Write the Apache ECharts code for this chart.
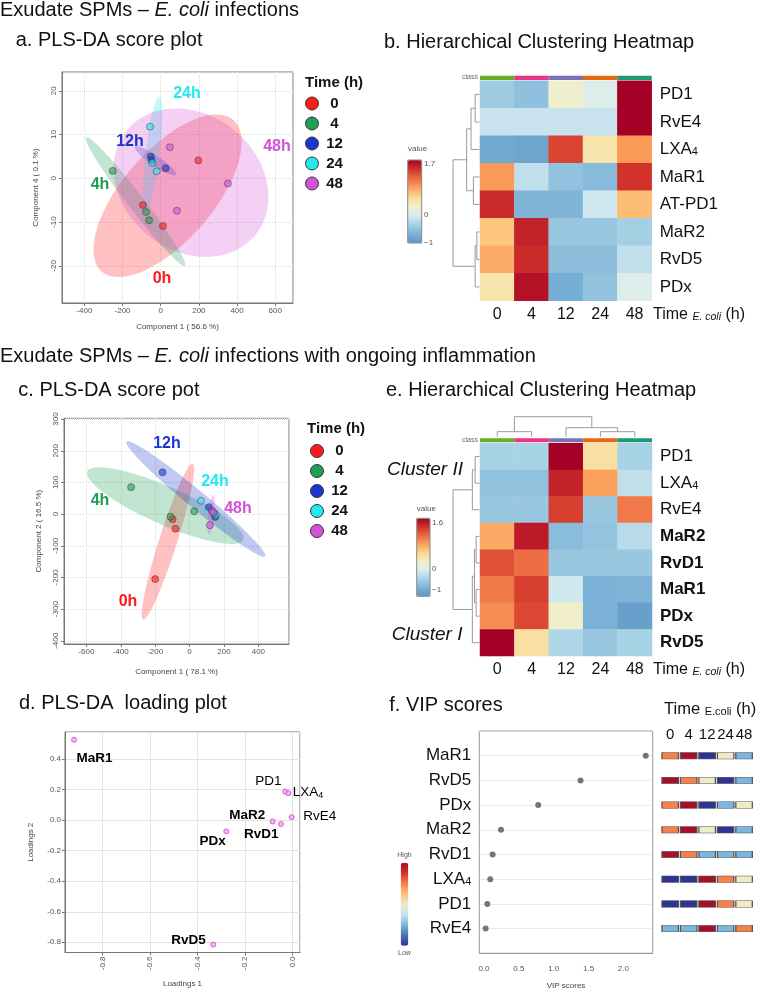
<!DOCTYPE html>
<html lang="en">
<head>
<meta charset="UTF-8">
<title>Exudate SPMs - E. coli infections</title>
<style>
  html, body { margin: 0; padding: 0; background: #fff; }
  #chart { width: 757px; height: 992px; }
</style>
</head>
<body>
<div id="chart"></div>
<script src="https://cdn.jsdelivr.net/npm/echarts@6/dist/echarts.min.js"></script>
<script>
var FONT = '"Liberation Sans", Arial, Helvetica, sans-serif';

var timeGroups = ['0', '4', '12', '24', '48'];
var groupColors = ['#ff1a1a', '#1f9e55', '#1a35d0', '#22e8f0', '#d452d8'];
var classColors = ['#6aab27', '#ea3389', '#7a71b7', '#e2690f', '#1b9a77'];
var heatPalette = ['#5e97c6', '#7cb2d6', '#a8d2e5', '#d8ecf1', '#f2efc8',
                   '#fcd790', '#fba35e', '#ec6a42', '#d1332a', '#a50026'];
var vipPalette = ['#2c3593', '#4a74b4', '#7ab6dd', '#c5e3ec', '#efebc9',
                  '#fbc17b', '#f5804a', '#d73027', '#a50f2a'];

// a. PLS-DA scores (Component 1, Component 4), one list per time point
var scoresA = [
  [[197, 4.1], [-93, -6.1], [12, -10.9]],
  [[-251, 1.7], [-77, -7.7], [-61, -9.6]],
  [[-52, 5.0], [-48, 4.2], [26, 2.3]],
  [[-56, 11.8], [-44, 3.5], [-21, 1.6]],
  [[48, 7.1], [352, -1.2], [85, -7.4]]
];
// confidence regions: centre x, centre y, semi-axis u (x, y), semi-axis v (x, y)
var ellipsesA = [
  [36, -4, 345, 17.3, 178, -6.8],
  [-132, -5.3, 259, -14.7, 33.5, 1.1],
  [-27, 4.0, 107, -3.2, 14.8, 0.94],
  [-43, 5.6, 35.6, 13.1, 36.4, -0.19],
  [159, -1, 338, -11.9, 224, 12.1]
];

// c. PLS-DA scores (Component 1, Component 2)
var scoresC = [
  [[-99, -16], [-82, -46], [-200, -205]],
  [[-340, 85], [27, 9], [-111, -8]],
  [[-157, 132], [112, 22], [149, -9]],
  [[66, 42], [153, -2], [142, 4]],
  [[130, 11], [137, 6], [118, -35]]
];
var ellipsesC = [
  [-126, -87, 144, 246, 50, -8.5],
  [-141, 27, 453, -108, 44, 55],
  [36, 48, 403, -181, 33.5, 21.7],
  [110, 20, 30, 15, 6, -6],
  [126, -2, 11.6, 63, 17.5, 0]
];

// b. heatmap
var heatRowsB = ['PD1', 'RvE4', 'LXA4', 'MaR1', 'AT-PD1', 'MaR2', 'RvD5', 'PDx'];
var heatB = [
  [-0.47, -0.57, 0.15, -0.05, 1.7],
  [-0.2, -0.2, -0.2, -0.2, 1.7],
  [-0.8, -0.85, 1.3, 0.35, 0.85],
  [0.85, -0.25, -0.55, -0.62, 1.4],
  [1.45, -0.68, -0.68, -0.15, 0.65],
  [0.6, 1.5, -0.5, -0.5, -0.42],
  [0.75, 1.45, -0.6, -0.6, -0.25],
  [0.35, 1.6, -0.75, -0.55, -0.05]
];
// linkage rows: [node a, node b, height], new nodes numbered after the leaves
var linkB = [[0, 1, 0.165], [8, 2, 0.32], [3, 4, 0.23], [9, 10, 0.485],
             [5, 6, 0.1], [12, 7, 0.165], [11, 13, 1.0]];

// e. heatmap
var heatRowsE = ['PD1', 'LXA4', 'RvE4', 'MaR2', 'RvD1', 'MaR1', 'PDx', 'RvD5'];
var boldNames = ['MaR2', 'RvD1', 'MaR1', 'PDx', 'RvD5'];
var heatE = [
  [-0.42, -0.42, 1.6, 0.35, -0.42],
  [-0.58, -0.58, 1.4, 0.75, -0.28],
  [-0.52, -0.52, 1.25, -0.52, 0.95],
  [0.7, 1.45, -0.62, -0.55, -0.32],
  [1.15, 1.0, -0.52, -0.52, -0.52],
  [0.95, 1.25, -0.18, -0.72, -0.68],
  [0.85, 1.2, 0.15, -0.72, -0.9],
  [1.6, 0.35, -0.38, -0.52, -0.42]
];
var linkERows = [[0, 1, 0.165], [8, 2, 0.27], [3, 4, 0.127], [5, 6, 0.127],
                 [10, 11, 0.19], [12, 7, 0.27], [9, 13, 1.0]];
var linkECols = [[0, 1, 0.25], [3, 4, 0.25], [2, 6, 0.45], [5, 7, 1.0]];

// d. loadings
var loadNames = ['MaR1', 'PD1', 'LXA4', 'RvE4', 'MaR2', 'RvD1', 'PDx', 'RvD5'];
var loadX = [-0.919, -0.031, -0.017, -0.003, -0.083, -0.048, -0.278, -0.333];
var loadY = [0.527, 0.188, 0.177, 0.020, -0.008, -0.025, -0.073, -0.815];

// f. VIP scores + relative level per time point (1 = low ... 5 = high)
var vipNames = ['MaR1', 'RvD5', 'PDx', 'MaR2', 'RvD1', 'LXA4', 'PD1', 'RvE4'];
var vipScores = [2.32, 1.385, 0.778, 0.244, 0.124, 0.09, 0.048, 0.024];
var vipLevels = [
  [4, 5, 1, 3, 2], [5, 4, 3, 1, 2], [4, 5, 1, 2, 3], [4, 5, 3, 1, 2],
  [5, 4, 2, 2, 2], [1, 1, 5, 4, 3], [1, 1, 5, 4, 3], [2, 2, 5, 2, 4]
];

var chart = echarts.init(document.getElementById('chart'));

var subRich = {
  n: {fontSize: 17, fontFamily: FONT, color: '#111'},
  s: {fontSize: 11, fontFamily: FONT, color: '#111', verticalAlign: 'bottom', lineHeight: 10},
  b: {fontSize: 17, fontFamily: FONT, color: '#111', fontWeight: 'bold'}
};
function rowLabeller(useBold) {
  return function (v) {
    if (v === 'LXA4') return '{n|LXA}{s|4}';
    if (useBold && boldNames.indexOf(v) >= 0) return '{b|' + v + '}';
    return '{n|' + v + '}';
  };
}
function oneDecimal(v) { return v.toFixed(1); }

var grids = [], xAxes = [], yAxes = [], series = [];
function grid(left, top, width, height, box) {
  grids.push({left: left, top: top, width: width, height: height, show: !!box,
              borderColor: box || '#fff', borderWidth: 1, backgroundColor: 'transparent'});
  return grids.length - 1;
}
function hidden(gi, min, max, inverse) {
  return {type: 'value', gridIndex: gi, min: min, max: max, inverse: !!inverse, show: false};
}
function valAxis(gi, min, max, split, name, gap, rot, lines, solid) {
  return {
    type: 'value', gridIndex: gi, min: min, max: max, splitNumber: split,
    name: name, nameLocation: 'middle', nameGap: gap,
    nameTextStyle: {fontSize: 8, color: '#444', fontFamily: FONT},
    axisLine: {show: true, onZero: false, lineStyle: {color: '#777'}},
    axisTick: {show: true, length: 3, lineStyle: {color: '#777'}},
    axisLabel: {fontSize: 8, color: '#555', fontFamily: FONT, rotate: rot, margin: 4,
                showMinLabel: false, showMaxLabel: false},
    splitLine: {show: !!lines, lineStyle: {color: lines || '#eee', type: solid ? 'solid' : 'dotted'}}
  };
}

// ---- score plots (a, c)
function addScores(gi, scores, ellipses) {
  series.push({
    type: 'custom', xAxisIndex: gi, yAxisIndex: gi, silent: true, z: 1,
    data: ellipses.map(function (e, g) { return e.concat([g]); }),
    renderItem: function (params, api) {
      var pts = [];
      for (var k = 0; k < 90; k++) {
        var t = k / 90 * Math.PI * 2, c = Math.cos(t), s = Math.sin(t);
        pts.push(api.coord([api.value(0) + api.value(2) * c + api.value(4) * s,
                            api.value(1) + api.value(3) * c + api.value(5) * s]));
      }
      return {type: 'polygon', shape: {points: pts},
              style: {fill: groupColors[api.value(6)], opacity: 0.27}};
    }
  });
  scores.forEach(function (pts, g) {
    series.push({
      type: 'scatter', name: timeGroups[g], xAxisIndex: gi, yAxisIndex: gi, z: 3,
      data: pts, symbolSize: 7, silent: true,
      itemStyle: {color: groupColors[g], opacity: 0.6, borderColor: '#333', borderWidth: 0.8}
    });
  });
}

// ---- dendrograms
function dendroSegments(linkage, n) {
  var pos = [], hgt = [], segs = [];
  for (var i = 0; i < n; i++) { pos.push(i); hgt.push(0); }
  linkage.forEach(function (m) {
    segs.push([pos[m[0]], hgt[m[0]], pos[m[1]], hgt[m[1]], m[2]]);
    pos.push((pos[m[0]] + pos[m[1]]) / 2);
    hgt.push(m[2]);
  });
  return segs;
}
function addDendro(gi, segs, rows) {
  series.push({
    type: 'custom', xAxisIndex: gi, yAxisIndex: gi, silent: true, data: segs,
    encode: rows ? {x: 1, y: 0} : {x: 0, y: 1},
    renderItem: function (params, api) {
      var f = rows ? function (p, h) { return api.coord([h, p]); }
                   : function (p, h) { return api.coord([p, h]); };
      var H = api.value(4);
      return {type: 'polyline',
              shape: {points: [f(api.value(0), api.value(1)), f(api.value(0), H),
                               f(api.value(2), H), f(api.value(2), api.value(3))]},
              style: {stroke: '#9a9a9a', fill: null, lineWidth: 1}};
    }
  });
}
function addClassBar(gi) {
  xAxes.push({type: 'category', gridIndex: gi, data: timeGroups, show: false});
  yAxes.push(hidden(gi, 0, 1));
  series.push({type: 'bar', xAxisIndex: gi, yAxisIndex: gi, silent: true, barCategoryGap: 0,
               data: classColors.map(function (c) { return {value: 1, itemStyle: {color: c}}; })});
}
function addHeat(gi, rows, values, useBold) {
  xAxes.push({type: 'category', gridIndex: gi, data: timeGroups,
              axisLine: {show: false}, axisTick: {show: false},
              axisLabel: {fontSize: 16, color: '#111', fontFamily: FONT, margin: 6, interval: 0}});
  yAxes.push({type: 'category', gridIndex: gi, data: rows, inverse: true, position: 'right',
              axisLine: {show: false}, axisTick: {show: false},
              axisLabel: {margin: 8, interval: 0, formatter: rowLabeller(useBold), rich: subRich}});
  var data = [];
  values.forEach(function (r, ri) { r.forEach(function (v, ci) { data.push([ci, ri, v]); }); });
  series.push({type: 'heatmap', xAxisIndex: gi, yAxisIndex: gi, data: data, silent: true});
  return series.length - 1;
}

// a
var gA = grid(62, 72, 231, 231, '#777');
xAxes.push(valAxis(gA, -517, 693, 6, 'Component 1 ( 56.6 %)', 20, 0, '#dcdcdc'));
yAxes.push(valAxis(gA, -28.5, 24.3, 5, 'Component 4 ( 0.1 %)', 22, 90, '#dcdcdc'));
addScores(gA, scoresA, ellipsesA);

// b
var gBd = grid(453, 80.7, 26.5, 220);
xAxes.push(hidden(gBd, 0, 1, true));
yAxes.push(hidden(gBd, -0.5, 7.5, true));
addDendro(gBd, dendroSegments(linkB, 8), true);
addClassBar(grid(480, 75.7, 171.7, 4.3));
var heatBIdx = addHeat(grid(480, 80.7, 171.7, 220), heatRowsB, heatB, false);

// c
var gC = grid(64, 418.3, 225, 225.7, '#777');
xAxes.push(valAxis(gC, -730, 578, 6, 'Component 1 ( 78.1 %)', 24, 0, '#dcdcdc'));
yAxes.push(valAxis(gC, -410, 302.5, 7, 'Component 2 ( 16.5 %)', 21, 90, '#dcdcdc'));
addScores(gC, scoresC, ellipsesC);

// e
var gEc = grid(480, 416.7, 172, 20);
xAxes.push(hidden(gEc, -0.5, 4.5));
yAxes.push(hidden(gEc, 0, 1));
addDendro(gEc, dendroSegments(linkECols, 5), false);
var gEr = grid(453, 443.3, 26.5, 212.7);
xAxes.push(hidden(gEr, 0, 1, true));
yAxes.push(hidden(gEr, -0.5, 7.5, true));
addDendro(gEr, dendroSegments(linkERows, 8), true);
addClassBar(grid(480, 438.3, 172, 4));
var heatEIdx = addHeat(grid(480, 443.3, 172, 212.7), heatRowsE, heatE, true);

// d
var gD = grid(65, 732, 235, 220.5, '#777');
var dx = valAxis(gD, -0.957, 0.032, 5, 'Loadings 1', 27, 90, '#e4e4e4', true);
dx.axisLabel.formatter = oneDecimal;
xAxes.push(dx);
var dy = valAxis(gD, -0.867, 0.578, 7, 'Loadings 2', 30, 0, '#e4e4e4', true);
dy.axisLabel.formatter = oneDecimal;
yAxes.push(dy);
var loadLabel = {
  MaR1: ['left', 3, 19], PD1: ['right', -3, -10], LXA4: ['left', 5, 0], RvE4: ['left', 12, 0],
  MaR2: ['right', -7, -6], RvD1: ['right', -2, 11], PDx: ['right', 0, 10], RvD5: ['right', -7, -4]
};
series.push({
  type: 'scatter', xAxisIndex: gD, yAxisIndex: gD, symbolSize: 5, silent: true,
  itemStyle: {color: '#f0a6f0', borderColor: '#d23fd2', borderWidth: 1},
  data: loadNames.map(function (n, i) {
    var l = loadLabel[n];
    var w = boldNames.indexOf(n) >= 0 ? 'bold' : 'normal';
    return {
      name: n, value: [loadX[i], loadY[i]],
      label: {show: true, position: [l[1] + 2.5, l[2] + 2.5], align: l[0], verticalAlign: 'middle',
              color: '#000', opacity: 1, textBorderWidth: 0, textShadowBlur: 0,
              formatter: n === 'LXA4' ? '{n|LXA}{s|4}' : '{n|' + n + '}',
              rich: {n: {fontSize: 13.5, fontFamily: FONT, color: '#000', fontWeight: w, textBorderWidth: 0},
                     s: {fontSize: 9, fontFamily: FONT, color: '#000', verticalAlign: 'bottom', lineHeight: 8, textBorderWidth: 0}}}
    };
  })
});

// f
var gF = grid(479.3, 731, 173.4, 222.3, '#999');
var fx = valAxis(gF, -0.067, 2.42, 5, 'VIP scores', 28, 0, null);
fx.axisTick.show = false;
fx.axisLine.lineStyle.color = '#999';
fx.axisLabel.margin = 11;
fx.axisLabel.formatter = oneDecimal;
xAxes.push(fx);
yAxes.push({type: 'value', gridIndex: gF, min: -1, max: 8, interval: 1, inverse: true,
            axisLine: {show: false}, axisTick: {show: false},
            axisLabel: {margin: 8, rich: {n: {fontSize: 17, fontFamily: FONT, color: '#111'},
                                          s: {fontSize: 11, fontFamily: FONT, color: '#111', verticalAlign: 'bottom', lineHeight: 10}},
                        formatter: function (v) {
                          var n = vipNames[v];
                          if (!n) return '';
                          return n === 'LXA4' ? '{n|LXA}{s|4}' : '{n|' + n + '}';
                        }},
            splitLine: {show: true, lineStyle: {color: '#d8d8d8', type: 'dotted'}}});
series.push({type: 'scatter', xAxisIndex: gF, yAxisIndex: gF, symbolSize: 6, silent: true,
             itemStyle: {color: '#555'},
             data: vipScores.map(function (v, i) { return [v, i]; })});

var gS = grid(661, 743.35, 92.3, 197.6);
xAxes.push({type: 'category', gridIndex: gS, data: timeGroups, position: 'top',
            axisLine: {show: false}, axisTick: {show: false},
            axisLabel: {fontSize: 15, color: '#111', fontFamily: FONT, margin: 1, interval: 0}});
yAxes.push({type: 'category', gridIndex: gS, data: vipNames, inverse: true, show: false});
var sqData = [];
vipLevels.forEach(function (r, ri) { r.forEach(function (v, ci) { sqData.push([ci, ri, v]); }); });
series.push({type: 'scatter', xAxisIndex: gS, yAxisIndex: gS, symbol: 'rect', symbolSize: [16.5, 6.5],
             silent: true, data: sqData, itemStyle: {borderColor: '#555', borderWidth: 0.8, opacity: 1}});
var sqIdx = series.length - 1;

// ---- texts
function T(x, y, text, size, opt) {
  opt = opt || {};
  return {type: 'text', x: x, y: y, silent: true, z: 10,
          style: {text: text, fontSize: size, fontFamily: FONT, fill: opt.fill || '#111',
                  fontWeight: opt.bold ? 'bold' : 'normal', fontStyle: opt.italic ? 'italic' : 'normal',
                  align: opt.align || 'left', verticalAlign: 'middle', rich: opt.rich}};
}
var italicRich = {i: {fontStyle: 'italic', fontSize: 20, fontFamily: FONT, fill: '#111'}};
var timeRich = function (big, small, italic) {
  return {t: {fontSize: big, fontFamily: FONT, fill: '#111'},
          s: {fontSize: small, fontFamily: FONT, fill: '#111', fontStyle: italic ? 'italic' : 'normal',
              verticalAlign: 'bottom', lineHeight: small - 2}};
};
var groupLabels = [
  [162, 279, 0], [100, 185, 1], [130, 142, 2], [187, 94, 3], [277, 147, 4],
  [128, 602, 0], [100, 501, 1], [167, 444, 2], [215, 482, 3], [238, 509, 4]
];
var graphics = [
  T(0, 10.5, 'Exudate SPMs – {i|E. coli} infections', 20, {rich: italicRich}),
  T(15.7, 40.5, 'a. PLS-DA score plot', 20),
  T(384, 42, 'b. Hierarchical Clustering Heatmap', 20),
  T(0, 356, 'Exudate SPMs – {i|E. coli} infections with ongoing inflammation', 20, {rich: italicRich}),
  T(18.3, 390.5, 'c. PLS-DA score pot', 20),
  T(386, 390.5, 'e. Hierarchical Clustering Heatmap', 20),
  T(19, 703.5, 'd. PLS-DA  loading plot', 20),
  T(389.3, 705.5, 'f. VIP scores', 20),
  T(305, 82.5, 'Time (h)', 15, {bold: true}),
  T(307, 428.5, 'Time (h)', 15, {bold: true}),
  T(653, 315, '{t|Time }{s|E. coli}{t| (h)}', 16, {rich: timeRich(16, 10.5, true)}),
  T(653, 670, '{t|Time }{s|E. coli}{t| (h)}', 16, {rich: timeRich(16, 10.5, true)}),
  T(664, 709, '{t|Time }{s|E.coli}{t| (h)}', 16.5, {rich: timeRich(16.5, 11, false)}),
  T(478, 77.5, 'class', 7, {fill: '#666', align: 'right'}),
  T(478, 440, 'class', 7, {fill: '#666', align: 'right'}),
  T(408, 149, 'value', 8, {fill: '#555'}),
  T(424, 164, '1.7', 8, {fill: '#555'}),
  T(424, 215, '0', 8, {fill: '#555'}),
  T(424, 243, '−1', 8, {fill: '#555'}),
  T(416.7, 509, 'value', 8, {fill: '#555'}),
  T(432, 522.7, '1.6', 8, {fill: '#555'}),
  T(432, 569, '0', 8, {fill: '#555'}),
  T(432, 590, '−1', 8, {fill: '#555'}),
  T(404.5, 855, 'High', 7, {fill: '#555', align: 'center'}),
  T(404.5, 953, 'Low', 7, {fill: '#555', align: 'center'}),
  T(387, 470, 'Cluster II', 19, {italic: true}),
  T(391.7, 635, 'Cluster I', 19, {italic: true}),
  {type: 'rect', shape: {x: 407.7, y: 160, width: 14, height: 83}, silent: true, z: 10,
   style: {fill: null, stroke: '#888', lineWidth: 1}},
  {type: 'rect', shape: {x: 416.7, y: 518.3, width: 13.3, height: 78}, silent: true, z: 10,
   style: {fill: null, stroke: '#888', lineWidth: 1}}
];
groupLabels.forEach(function (g) {
  graphics.push(T(g[0], g[1], timeGroups[g[2]] + 'h', 16, {bold: true, fill: groupColors[g[2]], align: 'center'}));
});

var legendItems = timeGroups.map(function (g, i) {
  return {name: g, itemStyle: {color: groupColors[i], opacity: 1, borderColor: '#333', borderWidth: 1}};
});
function legend(left, top) {
  return {left: left, top: top, orient: 'vertical', icon: 'circle', itemWidth: 13, itemHeight: 13,
          itemGap: 5, selectedMode: false, data: legendItems, padding: 0,
          formatter: function (n) { return '{c|' + n + '}'; },
          textStyle: {rich: {c: {width: 22, align: 'center', fontSize: 15, fontWeight: 'bold',
                                 color: '#111', fontFamily: FONT}}}};
}

var option = {
  animation: false,
  backgroundColor: '#fff',
  textStyle: {fontFamily: FONT},
  grid: grids,
  xAxis: xAxes,
  yAxis: yAxes,
  legend: [legend(305, 96), legend(310, 443.5)],
  visualMap: [
    {type: 'continuous', min: -1, max: 1.7, seriesIndex: heatBIdx, left: 407.7, top: 160,
     itemWidth: 14, itemHeight: 83, padding: 0, calculable: false, hoverLink: false,
     inRange: {color: heatPalette}},
    {type: 'continuous', min: -1, max: 1.6, seriesIndex: heatEIdx, left: 416.7, top: 518.3,
     itemWidth: 13.3, itemHeight: 78, padding: 0, calculable: false, hoverLink: false,
     inRange: {color: heatPalette}},
    {type: 'continuous', min: 1, max: 5, seriesIndex: sqIdx, left: 400.7, top: 862.7,
     itemWidth: 7.6, itemHeight: 83, padding: 0, calculable: false, hoverLink: false,
     inRange: {color: vipPalette}}
  ],
  graphic: graphics,
  series: series
};
chart.setOption(option);
</script>
</body>
</html>
